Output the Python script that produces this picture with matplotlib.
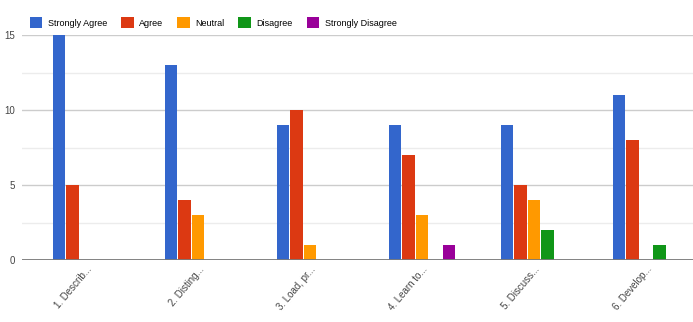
import matplotlib
matplotlib.use('Agg')
import matplotlib.pyplot as plt
from matplotlib.patches import Patch
import numpy as np

plt.rcParams['font.family'] = ['Liberation Sans Narrow', 'Liberation Sans', 'DejaVu Sans']

# Data
categories = ['1. Describ...', '2. Disting...', '3. Load, pr...', '4. Learn to...', '5. Discuss...', '6. Develop...']
series_names = ['Strongly Agree', 'Agree', 'Neutral', 'Disagree', 'Strongly Disagree']
strongly_agree = [15, 13, 9, 9, 9, 11]
agree = [5, 4, 10, 7, 5, 8]
neutral = [0, 3, 1, 3, 4, 0]
disagree = [0, 0, 0, 0, 2, 1]
strongly_disagree = [0, 0, 0, 1, 0, 0]
colors = ['#3366cc', '#dc3912', '#ff9900', '#109618', '#990099']

series = [strongly_agree, agree, neutral, disagree, strongly_disagree]

fig = plt.figure(figsize=(6.93, 3.22), dpi=100)
ax = fig.add_axes([22/693, 1 - 260/322, 1 - 22/693, 225/322])

x = np.arange(len(categories))
w = 0.1205
for k, (vals, col) in enumerate(zip(series, colors)):
    ax.bar(x + (k - 2) * w, vals, width=w * 0.92, color=col, zorder=3)

ax.set_xlim(-0.571, 5.42)
ax.set_ylim(0, 15)

# gridlines
ax.set_yticks([0, 5, 10, 15])
ax.set_yticks([2.5, 7.5, 12.5], minor=True)
ax.grid(axis='y', which='major', color='#cccccc', linewidth=1, zorder=0)
ax.grid(axis='y', which='minor', color='#ececec', linewidth=1, zorder=0)
ax.axhline(0, color='#7a7a7a', linewidth=1.3, zorder=4)

for s in ax.spines.values():
    s.set_visible(False)
ax.tick_params(axis='y', which='both', length=0, labelsize=7, labelcolor='#444444', pad=5)
ax.tick_params(axis='x', length=0, pad=3)
ax.set_xticks(x)
ax.set_xticklabels(categories, rotation=50, ha='right', rotation_mode='anchor',
                   fontsize=7, color='#444444')

handles = [Patch(facecolor=c, edgecolor='none') for c in colors]
fig.legend(handles, series_names, loc='center left', bbox_to_anchor=(0.043, 0.93),
           ncol=5, frameon=False, fontsize=6.5, handlelength=1.4, handleheight=1.4,
           handletextpad=0.6, columnspacing=1.55, borderpad=0, borderaxespad=0)

plt.savefig('out.png', dpi=100)
plt.close()
